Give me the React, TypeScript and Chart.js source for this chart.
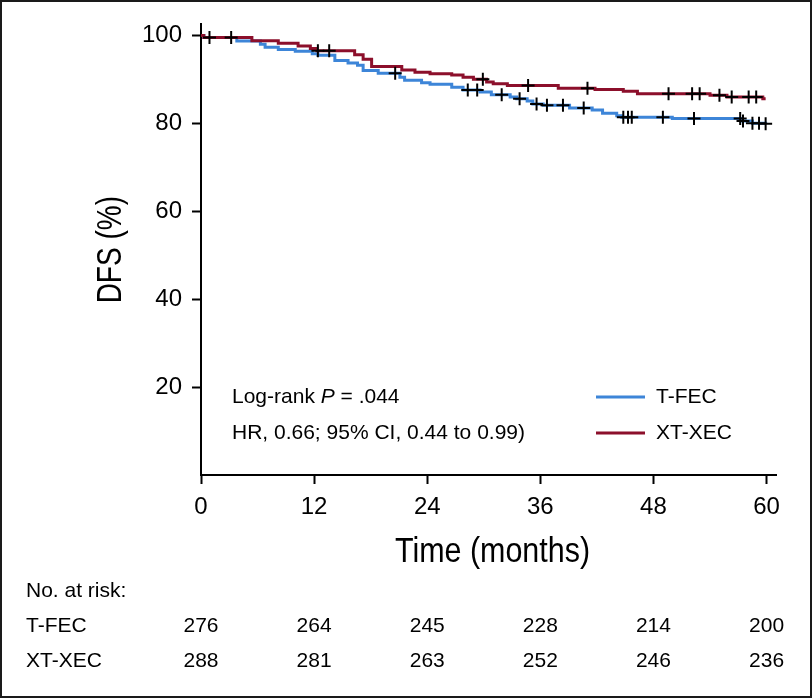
import React, { useEffect, useRef } from "react";
import { Chart, registerables } from "chart.js";

Chart.register(...registerables);

// ---- Data ----
const xTicks = [0, 12, 24, 36, 48, 60];
const yTicks = [20, 40, 60, 80, 100];

// T-FEC (blue) Kaplan–Meier steps: time (months) -> DFS (%)
const tfecTime = [0, 0.3, 3.8, 6.3, 6.8, 8.2, 10.0, 11.8, 12.4, 14.2, 15.6, 16.6, 17.2, 18.8, 21.1, 21.6, 23.4, 24.3, 26.6, 27.8, 29.6, 30.8, 32.8, 33.5, 34.6, 35.2, 36.3, 39.1, 41.5, 42.6, 44.1, 44.6, 50.0, 57.4, 58.5, 59.9];
const tfecDFS = [100, 99.5, 98.7, 98.0, 97.3, 96.8, 96.4, 95.8, 95.5, 94.3, 93.7, 93.2, 92.0, 91.4, 90.5, 89.8, 89.2, 88.9, 88.2, 87.6, 87.1, 86.5, 86.0, 85.6, 85.1, 84.4, 84.1, 83.5, 83.0, 82.3, 81.7, 81.4, 81.1, 80.5, 80.0, 79.9];
const tfecCensor = [20.6, 28.3, 29.3, 31.9, 33.8, 35.6, 36.7, 38.4, 40.6, 44.8, 45.3, 45.7, 49.0, 52.3, 57.2, 57.5, 58.5, 59.2, 59.9];

// XT-XEC (red)
const xtxecTime = [0, 0.3, 5.4, 8.2, 10.3, 11.6, 12.3, 16.3, 17.2, 18.1, 21.3, 22.7, 24.3, 26.6, 27.8, 28.9, 30.3, 31.0, 32.5, 37.9, 41.8, 44.8, 46.3, 54.0, 55.8, 59.6, 59.9];
const xtxecDFS = [100, 99.5, 98.8, 98.2, 97.6, 97.0, 96.5, 95.6, 94.6, 92.9, 92.1, 91.6, 91.3, 91.0, 90.5, 90.0, 89.4, 89.0, 88.6, 88.0, 87.7, 87.3, 86.7, 86.4, 86.0, 85.6, 85.6];
const xtxecCensor = [0.9, 3.2, 12.4, 13.6, 29.9, 34.7, 41.0, 49.6, 52.1, 52.9, 55.0, 56.3, 58.1, 58.9];

const riskTimes = [0, 12, 24, 36, 48, 60];
const riskTFEC = [276, 264, 245, 228, 214, 200];
const riskXTXEC = [288, 281, 263, 252, 246, 236];

const seriesNames = ["T-FEC", "XT-XEC"];
const BLUE = "#3d85d8";
const RED = "#8c0f2b";

const SANS = '"Liberation Sans", Arial, sans-serif';

function stepAt(times: number[], vals: number[], t: number) {
  let v = vals[0];
  for (let i = 0; i < times.length; i++) if (times[i] <= t) v = vals[i];
  return v;
}

// draws condensed text (horizontal scale) centred at (x, y)
function condensedText(ctx: any, text: string, x: number, y: number, k: number) {
  ctx.save();
  ctx.translate(x, y);
  ctx.scale(k, 1);
  ctx.textAlign = "center";
  ctx.textBaseline = "middle";
  ctx.fillText(text, 0, 0);
  ctx.restore();
}

const textPlugin = {
  id: "kmText",
  afterDraw(chart: any) {
    const { ctx, chartArea, scales } = chart;
    const xs = scales.x;
    ctx.save();
    // frame
    ctx.strokeStyle = "#1a1a1a";
    ctx.lineWidth = 2;
    ctx.strokeRect(1, 1, chart.width - 2, chart.height - 2);

    ctx.fillStyle = "#000";
    // y title
    ctx.save();
    ctx.translate(111, (chartArea.top + chartArea.bottom) / 2);
    ctx.rotate(-Math.PI / 2);
    ctx.font = `35px ${SANS}`;
    condensedText(ctx, "DFS (%)", 0, 0, 0.8);
    ctx.restore();

    // x title
    ctx.font = `35px ${SANS}`;
    condensedText(ctx, "Time (months)", (chartArea.left + chartArea.right) / 2 + 4, 552, 0.87);

    // annotations
    const ax = chartArea.left + 31;
    ctx.textAlign = "left";
    ctx.textBaseline = "middle";
    ctx.font = `21px ${SANS}`;
    let cx = ax;
    ctx.fillText("Log-rank ", cx, 397);
    cx += ctx.measureText("Log-rank ").width;
    ctx.font = `italic 21px ${SANS}`;
    ctx.fillText("P", cx, 397);
    cx += ctx.measureText("P").width;
    ctx.font = `21px ${SANS}`;
    ctx.fillText(" = .044", cx, 397);
    ctx.fillText("HR, 0.66; 95% CI, 0.44 to 0.99)", ax, 433);

    // legend
    const colors = [BLUE, RED];
    const ly = [397, 433];
    seriesNames.forEach((name, i) => {
      ctx.strokeStyle = colors[i];
      ctx.lineWidth = 3;
      ctx.beginPath();
      ctx.moveTo(596, ly[i]);
      ctx.lineTo(645, ly[i]);
      ctx.stroke();
      ctx.fillStyle = "#000";
      ctx.font = `21px ${SANS}`;
      ctx.textAlign = "left";
      ctx.fillText(name, 656, ly[i]);
    });

    // risk table
    ctx.font = `21px ${SANS}`;
    ctx.textAlign = "left";
    ctx.fillText("No. at risk:", 26, 591);
    const rows = [riskTFEC, riskXTXEC];
    const ry = [626, 661];
    rows.forEach((row, r) => {
      ctx.textAlign = "left";
      ctx.fillText(seriesNames[r], 26, ry[r]);
      ctx.textAlign = "center";
      row.forEach((n, i) => {
        ctx.fillText(String(n), xs.getPixelForValue(riskTimes[i]), ry[r]);
      });
    });
    ctx.restore();
  },
};

export default function App() {
  const ref = useRef<HTMLCanvasElement | null>(null);
  useEffect(() => {
    if (!ref.current) return;
    const blue = tfecTime.map((t, i) => ({ x: t, y: tfecDFS[i] }));
    const red = xtxecTime.map((t, i) => ({ x: t, y: xtxecDFS[i] }));
    const blueC = tfecCensor.map((t) => ({ x: t, y: stepAt(tfecTime, tfecDFS, t) }));
    const redC = xtxecCensor.map((t) => ({ x: t, y: stepAt(xtxecTime, xtxecDFS, t) }));
    const chart = new Chart(ref.current, {
      type: "line",
      data: {
        datasets: [
          { label: "T-FEC", data: blue, borderColor: BLUE, borderWidth: 3, stepped: "before", pointRadius: 0, fill: false, order: 3 },
          { label: "XT-XEC", data: red, borderColor: RED, borderWidth: 3, stepped: "before", pointRadius: 0, fill: false, order: 2 },
          { label: "cT", data: blueC, showLine: false, pointStyle: "cross", pointRadius: 6.5, pointBorderColor: "#000", pointBorderWidth: 2, order: 0 },
          { label: "cX", data: redC, showLine: false, pointStyle: "cross", pointRadius: 6.5, pointBorderColor: "#000", pointBorderWidth: 2, order: 0 },
        ],
      },
      options: {
        responsive: false,
        animation: false,
        layout: { padding: { left: 0, top: 24, right: 36, bottom: 0 } },
        plugins: { legend: { display: false }, tooltip: { enabled: false } },
        scales: {
          x: {
            type: "linear",
            min: 0,
            max: 61,
            afterBuildTicks: (s: any) => { s.ticks = xTicks.map((v) => ({ value: v })); },
            afterFit: (s: any) => { s.height = 223; },
            grid: { drawOnChartArea: false, drawTicks: true, tickLength: 9, tickWidth: 2, color: "#000" },
            border: { display: true, color: "#000", width: 2 },
            ticks: { color: "#000", padding: 9, maxRotation: 0, font: { family: SANS, size: 24 } },
          },
          y: {
            type: "linear",
            min: 0,
            max: 102.5,
            afterBuildTicks: (s: any) => { s.ticks = yTicks.map((v) => ({ value: v })); },
            afterFit: (s: any) => { s.width = 201; },
            grid: { drawOnChartArea: false, drawTicks: true, tickLength: 9, tickWidth: 2, color: "#000" },
            border: { display: true, color: "#000", width: 2 },
            ticks: { color: "#000", padding: 10, font: { family: SANS, size: 24 } },
          },
        },
      },
      plugins: [textPlugin],
    });
    return () => chart.destroy();
  }, []);
  return (
    <div style={{ position: "absolute", left: 0, top: 0, width: 812, height: 698, background: "#fff" }}>
      <canvas ref={ref} width={812} height={698} style={{ display: "block" }} />
    </div>
  );
}
